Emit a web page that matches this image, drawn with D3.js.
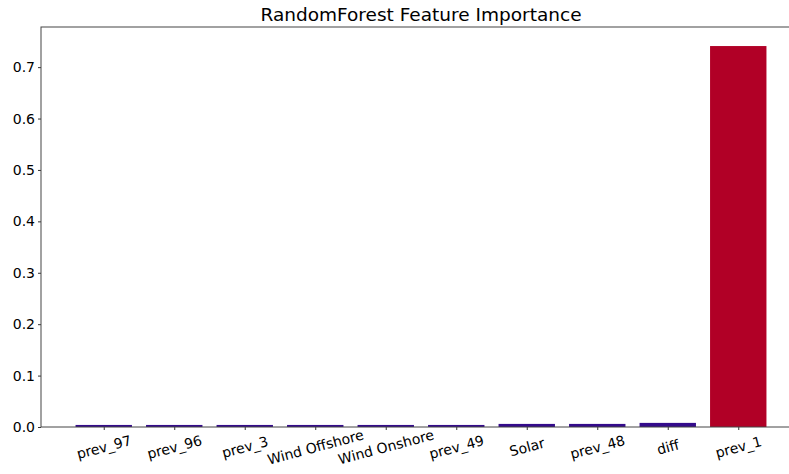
<!DOCTYPE html>
<html>
<head>
<meta charset="utf-8">
<script src="https://cdn.jsdelivr.net/npm/d3@7"></script>
<style>
  body { margin: 0; background: #fff; overflow: hidden; }
  text { font-family: "DejaVu Sans", sans-serif; fill: #000; }
</style>
</head>
<body>
<div id="chart"></div>
<script>
// data
const features = ["prev_97", "prev_96", "prev_3", "Wind Offshore", "Wind Onshore", "prev_49", "Solar", "prev_48", "diff", "prev_1"];
const importance = [0.004, 0.004, 0.004, 0.004, 0.004, 0.004, 0.006, 0.006, 0.008, 0.741];
const yTicks = [0.0, 0.1, 0.2, 0.3, 0.4, 0.5, 0.6, 0.7];
const title = "RandomForest Feature Importance";

const W = 789, H = 474;
const mLeft = 41, mTop = 27, plotW = 760, plotH = 400;

const svg = d3.select("#chart").append("svg")
    .attr("width", W).attr("height", H);

// matplotlib style: bars at integer positions, width 0.8, 5% margins
const n = features.length;
const x = d3.scaleLinear()
    .domain([-0.4 - 0.049 * n, n - 0.6 + 0.049 * n])
    .range([mLeft, mLeft + plotW]);
const yMax = d3.max(importance) * 1.05;
const y = d3.scaleLinear().domain([0, yMax]).range([mTop + plotH, mTop]);

const color = v => v > 0.1 ? "#b10026" : "#340b8b";

svg.append("g")
    .selectAll("rect")
    .data(importance)
    .enter().append("rect")
    .attr("x", (d, i) => x(i - 0.4))
    .attr("width", x(0.8) - x(0))
    .attr("y", d => y(d))
    .attr("height", d => y(0) - y(d))
    .attr("fill", d => color(d));

// y axis
const yAxis = svg.append("g")
    .attr("transform", `translate(${mLeft},0)`)
    .call(d3.axisLeft(y).tickValues(yTicks).tickFormat(d3.format(".1f")).tickSize(3).tickPadding(3));
yAxis.select(".domain").remove();
yAxis.selectAll("line").attr("stroke", "#333");
yAxis.selectAll("text").style("font-size", "14px").style("font-family", "DejaVu Sans");

// x axis
const xAxis = svg.append("g")
    .attr("transform", `translate(0,${mTop + plotH})`)
    .call(d3.axisBottom(x).tickValues(d3.range(n)).tickFormat(i => features[i]).tickSize(3));
xAxis.select(".domain").remove();
xAxis.selectAll("line").attr("stroke", "#333");
xAxis.selectAll("text")
    .style("font-size", "14px")
    .style("font-family", "DejaVu Sans")
    .attr("text-anchor", "middle")
    .attr("dy", null)
    .attr("y", 0)
    .attr("transform", "translate(0,21) rotate(-15)")
    .attr("dominant-baseline", "middle");

// spines
svg.append("rect")
    .attr("x", mLeft).attr("y", mTop)
    .attr("width", plotW).attr("height", plotH)
    .attr("fill", "none")
    .attr("stroke", "#444")
    .attr("stroke-width", 1);

svg.append("text")
    .attr("x", mLeft + plotW / 2)
    .attr("y", 21)
    .attr("text-anchor", "middle")
    .style("font-size", "18.5px")
    .text(title);
</script>
</body>
</html>
